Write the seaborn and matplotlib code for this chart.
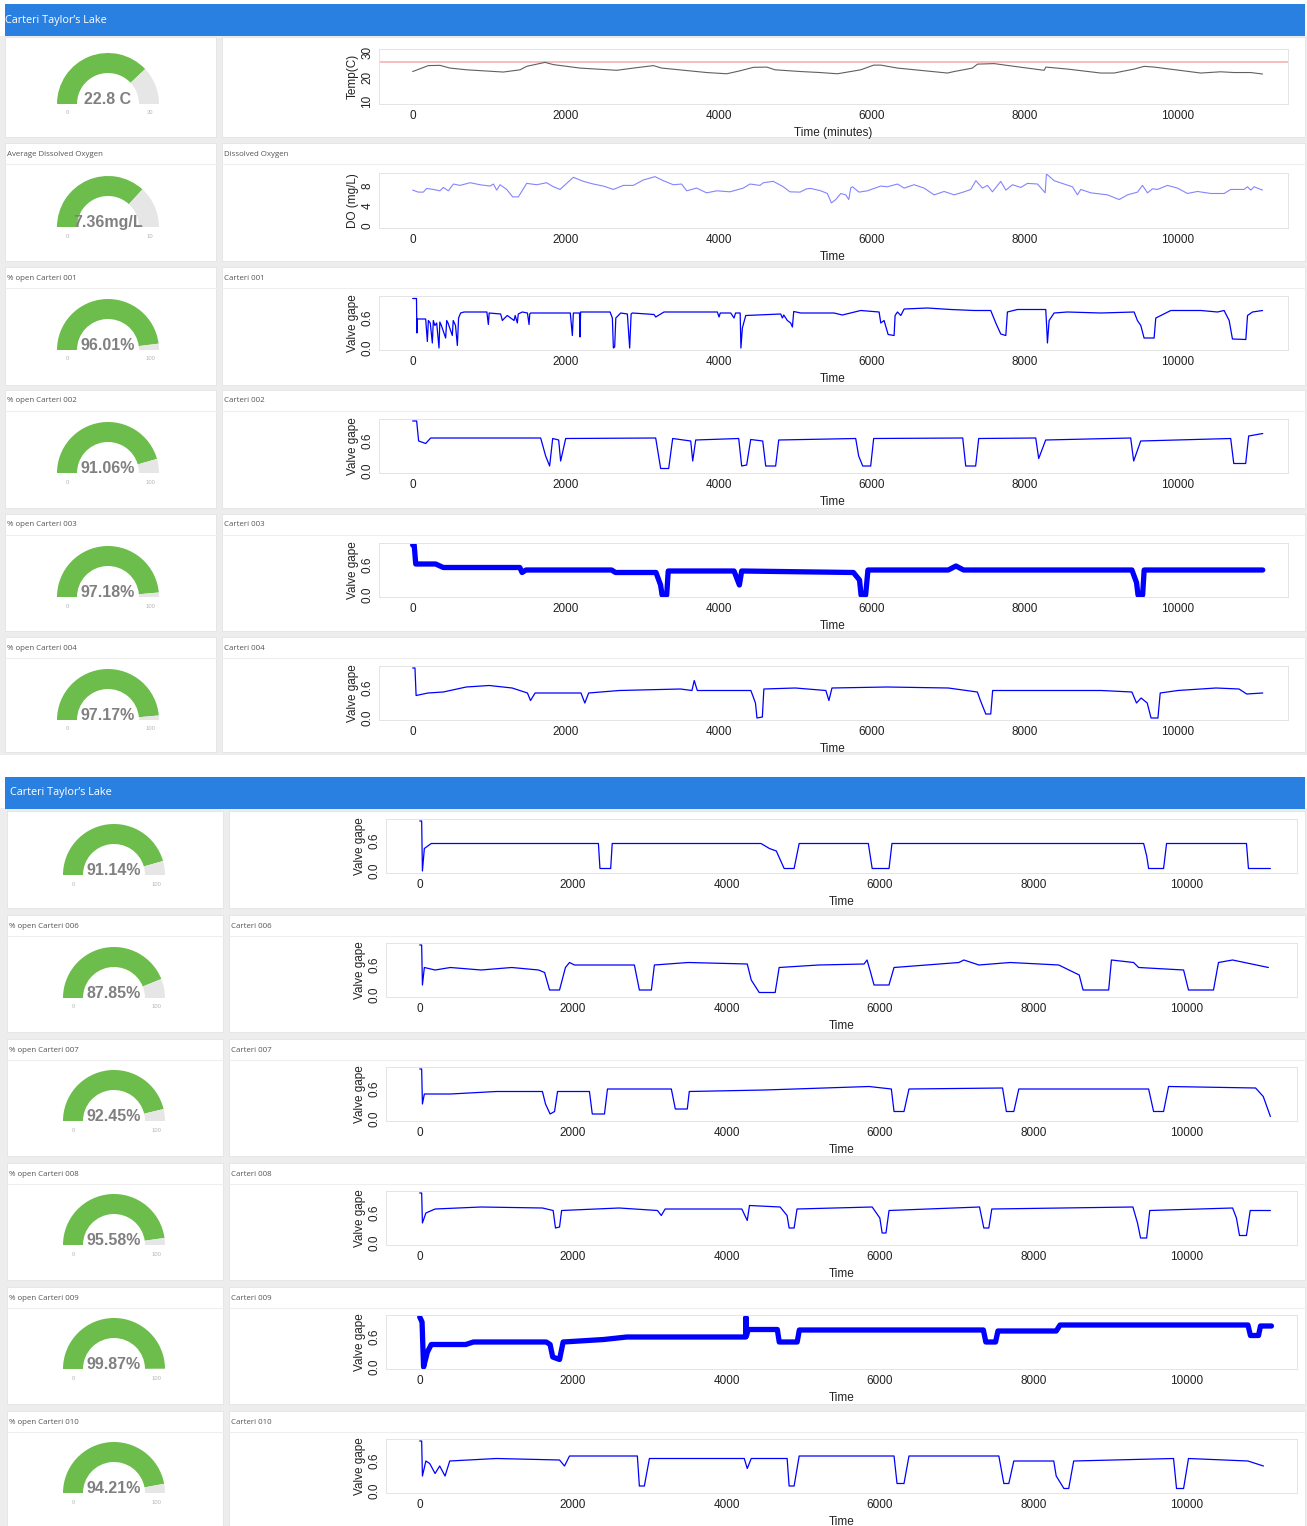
import numpy as np
import pandas as pd
import seaborn as sns
import matplotlib.pyplot as plt
from matplotlib.patches import Rectangle, Wedge

W, H = 1307, 1526

# ---- data (time in minutes) ----
temp_points = [(0, 22.2), (205, 24.6), (357, 24.7), (488, 23.6), (706, 22.9), (1185, 22.0), (1403, 22.9),
               (1490, 24.3), (1730, 25.9), (1839, 25.0), (2187, 23.6), (2667, 22.7), (2885, 23.6), (3146, 24.6),
               (3255, 23.6), (3843, 21.8), (4105, 21.3), (4279, 22.5), (4453, 23.9), (4627, 24.0), (4736, 22.9),
               (5072, 22.2), (5324, 21.8), (5551, 21.3), (5856, 22.9), (6026, 24.8), (6118, 24.8), (6336, 23.6),
               (6989, 21.6), (7076, 22.2), (7316, 23.6), (7382, 25.2), (7600, 25.4), (7861, 24.3), (8253, 22.7),
               (8275, 24.0), (8558, 23.2), (8993, 21.6), (9168, 21.6), (9429, 23.2), (9559, 24.3), (9690, 24.0),
               (10300, 21.6), (10561, 22.1), (10735, 21.8), (10953, 21.8), (11107, 21.2)]
temp_limit = 26

do_points = [(0, 7.07), (74, 6.67), (139, 6.67), (183, 7.4), (270, 7.2), (357, 6.93), (401, 7.6), (466, 6.93),
             (532, 8.27), (619, 8.0), (750, 8.53), (880, 8.13), (1011, 7.87), (1055, 8.27), (1098, 7.07),
             (1142, 8.13), (1229, 7.2), (1307, 5.73), (1381, 5.73), (1490, 8.4), (1621, 8.13), (1751, 8.53),
             (1839, 7.73), (1926, 7.2), (2100, 9.6), (2231, 8.8), (2361, 8.27), (2492, 7.87), (2623, 7.2),
             (2753, 8.0), (2884, 8.0), (3014, 9.07), (3167, 9.73), (3276, 8.93), (3406, 8.13), (3515, 8.27),
             (3581, 6.93), (3711, 7.47), (3842, 6.53), (3973, 6.93), (4147, 6.73), (4321, 7.47), (4409, 8.27),
             (4539, 8.0), (4583, 8.53), (4713, 8.8), (4844, 7.73), (4931, 6.73), (5062, 6.67), (5149, 7.33),
             (5203, 7.4), (5333, 6.93), (5420, 6.4), (5472, 4.53), (5529, 5.2), (5595, 6.4), (5660, 6.13),
             (5700, 5.2), (5725, 7.47), (5747, 7.73), (5834, 6.67), (5943, 6.93), (6118, 7.87), (6205, 7.73),
             (6336, 8.27), (6423, 7.47), (6553, 8.13), (6684, 7.47), (6815, 6.13), (6946, 6.8), (7076, 6.13),
             (7207, 6.73), (7294, 7.2), (7360, 8.93), (7447, 7.47), (7512, 8.0), (7577, 6.73), (7686, 8.8),
             (7752, 7.07), (7839, 8.13), (7948, 7.6), (8035, 8.4), (8166, 8.27), (8266, 6.53), (8283, 10.27),
             (8383, 8.93), (8514, 8.27), (8623, 7.73), (8688, 6.13), (8732, 7.2), (8863, 6.53), (9081, 6.13),
             (9234, 5.2), (9342, 6.13), (9473, 6.67), (9538, 8.0), (9604, 6.53), (9669, 7.33), (9734, 7.2),
             (9865, 8.0), (9995, 7.47), (10126, 6.4), (10257, 6.8), (10431, 6.4), (10605, 6.4), (10692, 7.2),
             (10866, 7.2), (10910, 7.73), (10953, 7.07), (10997, 7.73), (11106, 7.07)]

c001 = [(0, 0.99), (50, 0.99), (55, 0.3), (62, 0.58), (170, 0.58), (192, 0.13), (205, 0.55), (230, 0.5),
        (257, 0.1), (270, 0.55), (290, 0.45), (314, 0.5), (344, 0.0), (355, 0.52), (375, 0.45), (431, 0.2),
        (445, 0.55), (462, 0.5), (518, 0.25), (530, 0.55), (560, 0.45), (584, 0.05), (600, 0.6), (627, 0.7),
        (671, 0.72), (970, 0.72), (989, 0.47), (1000, 0.7), (1150, 0.68), (1172, 0.55), (1190, 0.58),
        (1237, 0.65), (1325, 0.55), (1340, 0.65), (1368, 0.5), (1380, 0.68), (1433, 0.72), (1500, 0.7),
        (1521, 0.47), (1530, 0.68), (1542, 0.7), (2060, 0.7), (2087, 0.25), (2100, 0.7), (2180, 0.7),
        (2187, 0.22), (2195, 0.72), (2580, 0.72), (2610, 0.6), (2623, 0.0), (2640, 0.02), (2655, 0.6),
        (2719, 0.7), (2806, 0.68), (2836, 0.0), (2855, 0.68), (2871, 0.7), (3155, 0.67), (3176, 0.62),
        (3285, 0.72), (3982, 0.72), (4004, 0.62), (4020, 0.7), (4157, 0.7), (4200, 0.6), (4220, 0.7),
        (4280, 0.7), (4290, 0.0), (4309, 0.4), (4353, 0.65), (4810, 0.68), (4832, 0.6), (4850, 0.66),
        (4897, 0.55), (4940, 0.5), (4963, 0.42), (4980, 0.73), (5072, 0.7), (5507, 0.7), (5616, 0.66),
        (5856, 0.75), (6096, 0.72), (6118, 0.5), (6161, 0.55), (6214, 0.27), (6292, 0.25), (6305, 0.65),
        (6336, 0.72), (6380, 0.65), (6423, 0.78), (6728, 0.8), (7033, 0.77), (7337, 0.75), (7555, 0.75),
        (7621, 0.5), (7686, 0.28), (7752, 0.25), (7773, 0.72), (7903, 0.77), (8274, 0.77), (8287, 0.4),
        (8296, 0.1), (8318, 0.55), (8383, 0.7), (8557, 0.72), (8993, 0.7), (9429, 0.72), (9472, 0.55),
        (9516, 0.45), (9559, 0.2), (9690, 0.2), (9712, 0.6), (9778, 0.65), (9908, 0.75), (10300, 0.75),
        (10518, 0.72), (10605, 0.75), (10671, 0.55), (10714, 0.18), (10889, 0.17), (10911, 0.65),
        (10976, 0.72), (11107, 0.75)]

c002 = [(0, 1.0), (52, 1.0), (78, 0.6), (170, 0.55), (235, 0.66), (1673, 0.66), (1738, 0.3), (1790, 0.1),
        (1830, 0.65), (1908, 0.62), (1934, 0.2), (2000, 0.65), (3176, 0.66), (3241, 0.05), (3346, 0.05),
        (3398, 0.65), (3634, 0.6), (3660, 0.2), (3699, 0.62), (4261, 0.65), (4300, 0.1), (4365, 0.12),
        (4418, 0.63), (4575, 0.6), (4614, 0.1), (4744, 0.1), (4784, 0.62), (5790, 0.65), (5829, 0.3),
        (5882, 0.1), (5986, 0.1), (6025, 0.65), (7189, 0.66), (7228, 0.1), (7358, 0.1), (7398, 0.65),
        (8143, 0.66), (8182, 0.25), (8273, 0.62), (9384, 0.66), (9423, 0.2), (9515, 0.6), (10691, 0.65),
        (10731, 0.15), (10887, 0.15), (10926, 0.7), (11110, 0.75)]

c003 = [(0, 1.0), (20, 1.0), (40, 0.62), (300, 0.62), (400, 0.55), (1400, 0.55), (1430, 0.45), (1480, 0.5),
        (2600, 0.5), (2650, 0.45), (3180, 0.45), (3240, 0.2), (3260, 0.0), (3320, 0.0), (3340, 0.48),
        (4200, 0.48), (4270, 0.2), (4300, 0.48), (5760, 0.45), (5840, 0.3), (5860, 0.0), (5920, 0.0),
        (5950, 0.5), (7000, 0.5), (7100, 0.58), (7200, 0.5), (9400, 0.5), (9460, 0.25), (9480, 0.0),
        (9540, 0.0), (9560, 0.5), (11110, 0.5)]

c004 = [(0, 1.0), (30, 1.0), (45, 0.45), (200, 0.5), (400, 0.52), (700, 0.62), (1000, 0.65), (1300, 0.6),
        (1500, 0.5), (1540, 0.35), (1600, 0.5), (2200, 0.5), (2250, 0.3), (2300, 0.5), (2700, 0.55),
        (3500, 0.58), (3650, 0.55), (3680, 0.75), (3720, 0.55), (4420, 0.55), (4480, 0.3), (4500, 0.0),
        (4570, 0.02), (4590, 0.58), (5000, 0.6), (5400, 0.55), (5440, 0.35), (5480, 0.6), (6200, 0.62),
        (7000, 0.6), (7380, 0.52), (7420, 0.35), (7490, 0.08), (7555, 0.08), (7580, 0.55), (9000, 0.55),
        (9400, 0.52), (9460, 0.3), (9520, 0.4), (9600, 0.3), (9650, 0.0), (9740, 0.0), (9770, 0.5),
        (10000, 0.55), (10500, 0.6), (10800, 0.58), (10900, 0.48), (11110, 0.5)]

c005 = [(0, 1.0), (25, 1.0), (35, 0.0), (60, 0.45), (150, 0.55), (2330, 0.55), (2350, 0.05), (2490, 0.05),
        (2510, 0.55), (4450, 0.55), (4560, 0.45), (4650, 0.4), (4752, 0.05), (4882, 0.05), (4948, 0.55),
        (5850, 0.55), (5900, 0.05), (6120, 0.05), (6158, 0.55), (9440, 0.55), (9480, 0.3), (9505, 0.05),
        (9700, 0.05), (9739, 0.55), (10781, 0.55), (10807, 0.05), (11093, 0.05)]

c006 = [(0, 1.0), (25, 1.0), (35, 0.2), (60, 0.55), (200, 0.5), (400, 0.55), (800, 0.5), (1200, 0.55),
        (1550, 0.5), (1628, 0.45), (1693, 0.1), (1823, 0.1), (1900, 0.55), (1953, 0.65), (2018, 0.6),
        (2799, 0.6), (2864, 0.1), (3021, 0.1), (3060, 0.6), (3500, 0.65), (4271, 0.62), (4323, 0.3),
        (4427, 0.05), (4635, 0.05), (4687, 0.55), (5200, 0.6), (5794, 0.62), (5833, 0.7), (5880, 0.45),
        (5924, 0.2), (6119, 0.2), (6185, 0.55), (7031, 0.65), (7096, 0.7), (7292, 0.6), (7700, 0.65),
        (8333, 0.6), (8600, 0.4), (8650, 0.1), (8984, 0.1), (9020, 0.7), (9309, 0.65), (9375, 0.55),
        (9961, 0.5), (10025, 0.1), (10351, 0.1), (10416, 0.65), (10600, 0.7), (11067, 0.55)]

c007 = [(0, 1.0), (25, 1.0), (35, 0.3), (60, 0.5), (400, 0.5), (1000, 0.55), (1600, 0.55), (1640, 0.3),
        (1700, 0.1), (1758, 0.15), (1797, 0.55), (2213, 0.55), (2250, 0.1), (2409, 0.1), (2448, 0.6),
        (3281, 0.6), (3333, 0.2), (3489, 0.2), (3515, 0.55), (4500, 0.58), (5859, 0.65), (6150, 0.6),
        (6185, 0.15), (6315, 0.15), (6380, 0.6), (7600, 0.62), (7650, 0.15), (7747, 0.15), (7812, 0.6),
        (9505, 0.6), (9570, 0.15), (9700, 0.15), (9765, 0.65), (10900, 0.62), (11000, 0.45), (11093, 0.05)]

c008 = [(0, 1.0), (25, 1.0), (35, 0.4), (80, 0.6), (200, 0.68), (800, 0.72), (1600, 0.7), (1740, 0.65),
        (1770, 0.3), (1823, 0.32), (1850, 0.65), (2600, 0.7), (3100, 0.65), (3150, 0.55), (3200, 0.68),
        (4200, 0.68), (4271, 0.45), (4300, 0.75), (4700, 0.72), (4790, 0.55), (4817, 0.3), (4882, 0.3),
        (4920, 0.68), (5900, 0.72), (6000, 0.5), (6030, 0.2), (6080, 0.2), (6120, 0.65), (7300, 0.72),
        (7356, 0.3), (7421, 0.3), (7460, 0.68), (9300, 0.72), (9360, 0.4), (9400, 0.1), (9479, 0.1),
        (9520, 0.65), (10600, 0.7), (10650, 0.5), (10690, 0.15), (10781, 0.15), (10830, 0.65), (11093, 0.65)]

c009 = [(0, 1.0), (30, 0.9), (50, 0.0), (100, 0.3), (150, 0.45), (600, 0.45), (700, 0.5), (1650, 0.5),
        (1700, 0.45), (1734, 0.2), (1823, 0.15), (1870, 0.5), (2400, 0.55), (2700, 0.6), (4200, 0.6),
        (4250, 0.6), (4254, 1.0), (4260, 0.62),
        (4284, 0.75), (4663, 0.75), (4688, 0.5), (4922, 0.5), (4950, 0.74), (7350, 0.74), (7382, 0.5),
        (7509, 0.5), (7540, 0.72), (8300, 0.72), (8350, 0.84), (10800, 0.84), (10833, 0.63), (10938, 0.63),
        (10964, 0.82), (11107, 0.82)]

c010 = [(0, 1.0), (25, 1.0), (35, 0.3), (80, 0.6), (130, 0.55), (200, 0.35), (260, 0.5), (330, 0.3),
        (391, 0.6), (1000, 0.65), (1823, 0.62), (1888, 0.5), (1953, 0.7), (2838, 0.7), (2864, 0.1),
        (2929, 0.1), (2995, 0.65), (4232, 0.65), (4271, 0.45), (4323, 0.65), (4791, 0.65), (4817, 0.1),
        (4882, 0.1), (4948, 0.7), (6185, 0.7), (6224, 0.15), (6315, 0.15), (6380, 0.7), (7552, 0.7),
        (7617, 0.15), (7682, 0.15), (7747, 0.6), (8268, 0.6), (8300, 0.3), (8400, 0.05), (8463, 0.05),
        (8528, 0.6), (9830, 0.65), (9869, 0.05), (9961, 0.05), (10025, 0.65), (10800, 0.6), (11002, 0.5)]

top_gauge_values = [22.8, 7.36, 96.01, 91.06, 97.18, 97.17]
top_gauge_max = [30, 10, 100, 100, 100, 100]
top_gauge_text = ['22.8 C', '7.36mg/L', '96.01%', '91.06%', '97.18%', '97.17%']
top_left_titles = ['', 'Average Dissolved Oxygen', '% open Carteri 001', '% open Carteri 002',
                   '% open Carteri 003', '% open Carteri 004']
top_right_titles = ['', 'Dissolved Oxygen', 'Carteri 001', 'Carteri 002', 'Carteri 003', 'Carteri 004']

bottom_gauge_values = [91.14, 87.85, 92.45, 95.58, 99.87, 94.21]
bottom_gauge_text = ['91.14%', '87.85%', '92.45%', '95.58%', '99.87%', '94.21%']
bottom_left_titles = ['', '% open Carteri 006', '% open Carteri 007', '% open Carteri 008',
                      '% open Carteri 009', '% open Carteri 010']
bottom_right_titles = ['', 'Carteri 006', 'Carteri 007', 'Carteri 008', 'Carteri 009', 'Carteri 010']

sns.set_style('white')
plt.rcParams['font.family'] = ['Liberation Sans', 'DejaVu Sans']

fig = plt.figure(figsize=(W / 100, H / 100), dpi=100)
bg = fig.add_axes([0, 0, 1, 1])
bg.set_xlim(0, W)
bg.set_ylim(H, 0)
bg.axis('off')

HEAD = '#2a80e1'
GAP = '#ededed'
GREEN = '#6cbd4c'


def box(x0, y0, x1, y1, title=''):
    bg.add_patch(Rectangle((x0, y0), x1 - x0, y1 - y0, facecolor='white', edgecolor='#e3e3e3', lw=0.6))
    if title:
        bg.text(x0 + 2, y0 + 11, title, fontsize=5.7, color='#555555', va='center', family='Open Sans')
        bg.plot([x0, x1], [y0 + 21, y0 + 21], color='#eeeeee', lw=0.8)


def gauge(cx, by, value, vmax, text):
    f = value / vmax
    bg.add_patch(Wedge((cx, by), 51, 180, 180 + 180 * f, width=20, facecolor=GREEN, edgecolor='none'))
    bg.add_patch(Wedge((cx, by), 51, 180 + 180 * f, 360, width=20, facecolor='#e6e6e6', edgecolor='none'))
    bg.text(cx, by, text, ha='center', va='baseline', fontsize=11.5, fontweight='bold', color='#808080')
    bg.text(cx - 41, by + 9, '0', ha='center', va='center', fontsize=4.2, color='#b5b5b5')
    bg.text(cx + 42, by + 9, str(vmax), ha='center', va='center', fontsize=4.2, color='#b5b5b5')


def series_axes(x0, y0, x1, y1, points, color, lw, ylim, yticks, ylabels, ylabel, xlabel='Time'):
    ax = fig.add_axes([x0 / W, 1 - y1 / H, (x1 - x0) / W, (y1 - y0) / H])
    df = pd.DataFrame(points, columns=['t', 'v'])
    sns.lineplot(data=df, x='t', y='v', ax=ax, color=color, linewidth=lw, estimator=None, sort=False)
    ax.set_xlim(-440, 11440)
    ax.set_ylim(*ylim)
    ax.set_xticks(range(0, 10001, 2000))
    ax.set_xticklabels([str(v) for v in range(0, 10001, 2000)], fontsize=8.5)
    ax.set_yticks(yticks)
    ax.set_yticklabels(ylabels, rotation=90, va='center', fontsize=8.5)
    ax.tick_params(axis='both', length=3, width=0.6, color='#cccccc', pad=1.5, labelcolor='#222222')
    ax.tick_params(axis='y', pad=1)
    for s in ax.spines.values():
        s.set_color('#e4e4e4')
        s.set_linewidth(0.7)
    ax.set_xlabel(xlabel, fontsize=8.5, labelpad=1, color='#222222')
    ax.set_ylabel(ylabel, fontsize=8.5, labelpad=2, color='#222222')
    # R centres the x label on the plotting region of the whole device
    centre = 833 if x1 < 1290 else 842
    ax.xaxis.set_label_coords((centre - x0) / (x1 - x0), -0.42)
    return ax


valve_ticks = [0, 0.2, 0.4, 0.6, 0.8, 1.0]
valve_labels = ['0.0', '', '', '0.6', '', '']

# ---------------- top screenshot ----------------
bg.add_patch(Rectangle((0, 36), W, 719, facecolor=GAP, edgecolor='none'))
bg.add_patch(Rectangle((5, 4), 1300, 32, facecolor=HEAD, edgecolor='none'))
bg.text(5, 20, "Carteri Taylor\u2019s Lake", color='white', fontsize=7.8, va='center', family='Open Sans')

top_rows = [(37, 137), (143, 261), (267, 385), (390, 508), (514, 631), (637, 752)]
top_base = [104, 227, 350, 473, 597, 720]
top_ax_y = [49, 173, 296, 419, 543, 666]
top_series = [temp_points, do_points, c001, c002, c003, c004]

for i, (r0, r1) in enumerate(top_rows):
    box(5, r0, 216, r1, top_left_titles[i])
    box(222, r0, 1305, r1, top_right_titles[i])
    gauge(108, top_base[i], top_gauge_values[i], top_gauge_max[i], top_gauge_text[i])
    y0 = top_ax_y[i]
    if i == 0:
        ax = series_axes(379, y0, 1288, y0 + 55, temp_points, '#606060', 0.8, (9.1, 31.3),
                         [10, 15, 20, 25, 30], ['10', '', '20', '', '30'], 'Temp(C)', 'Time (minutes)')
        ax.axhline(temp_limit, color='#f7b9b9', lw=1.3, zorder=0)
    elif i == 1:
        series_axes(379, y0, 1288, y0 + 55, do_points, '#8484ff', 0.8, (-0.42, 10.45),
                    [0, 2, 4, 6, 8, 10], ['0', '', '4', '', '8', ''], 'DO (mg/L)')
    else:
        lw = 3.8 if i == 4 else 0.9
        series_axes(379, y0, 1288, y0 + 54, top_series[i], '#0000ff', lw, (-0.04, 1.04),
                    valve_ticks, valve_labels, 'Valve gape')

# ---------------- bottom screenshot ----------------
bg.add_patch(Rectangle((0, 808), W, H - 808, facecolor=GAP, edgecolor='none'))
bg.add_patch(Rectangle((5, 777), 1300, 32, facecolor=HEAD, edgecolor='none'))
bg.text(10, 792, "Carteri Taylor\u2019s Lake", color='white', fontsize=7.8, va='center', family='Open Sans')

bottom_rows = [(811, 908), (915, 1032), (1039, 1156), (1163, 1280), (1287, 1404), (1411, 1530)]
bottom_base = [875, 998, 1121, 1245, 1369, 1493]
bottom_ax_y = [819, 943, 1067, 1191, 1315, 1439]
bottom_series = [c005, c006, c007, c008, c009, c010]

for i, (r0, r1) in enumerate(bottom_rows):
    box(7, r0, 223, r1, bottom_left_titles[i])
    box(229, r0, 1305, r1, bottom_right_titles[i])
    gauge(114, bottom_base[i], bottom_gauge_values[i], 100, bottom_gauge_text[i])
    y0 = bottom_ax_y[i]
    lw = 3.8 if i == 4 else 0.9
    series_axes(386, y0, 1297, y0 + 54, bottom_series[i], '#0000ff', lw, (-0.04, 1.04),
                valve_ticks, valve_labels, 'Valve gape')

fig.savefig('out.png', dpi=100)
